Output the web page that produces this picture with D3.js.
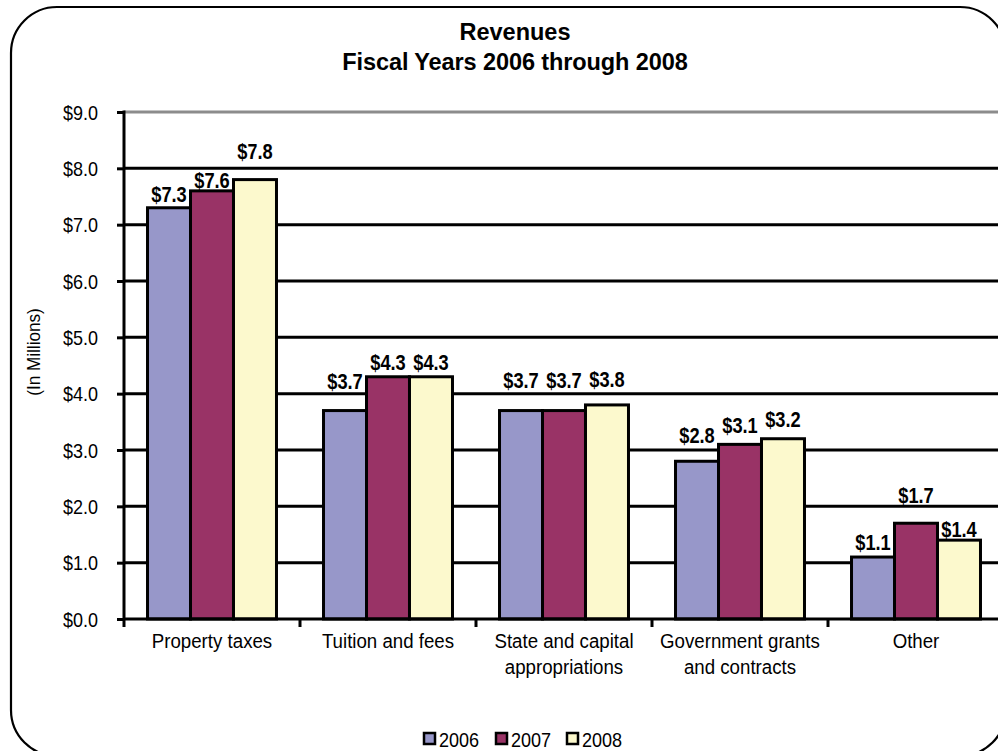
<!DOCTYPE html>
<html>
<head>
<meta charset="utf-8">
<script src="https://cdn.jsdelivr.net/npm/d3@7"></script>
<style>
  html, body { margin: 0; padding: 0; background: #fff; overflow: hidden; }
  svg { display: block; font-family: "Liberation Sans", Arial, sans-serif; }
</style>
</head>
<body>
<svg id="chart" width="998" height="751"></svg>
<script>
// Revenue categories (two-line labels split with "|")
const categories = [
  "Property taxes",
  "Tuition and fees",
  "State and capital|appropriations",
  "Government grants|and contracts",
  "Other"
];
const years = ["2006", "2007", "2008"];
// Revenues in millions of dollars, one array per fiscal year
const values2006 = [7.3, 3.7, 3.7, 2.8, 1.1];
const values2007 = [7.6, 4.3, 3.7, 3.1, 1.7];
const values2008 = [7.8, 4.3, 3.8, 3.2, 1.4];
const yTicks = [0, 1, 2, 3, 4, 5, 6, 7, 8, 9];
const colors = ["#9797c9", "#993366", "#fcf9cd"];

const series = [values2006, values2007, values2008];

const svg = d3.select("#chart");

// Narrow the glyphs of a text selection horizontally, keeping its anchor point
function squeeze(sel, sx) {
  sel.each(function () {
    const t = d3.select(this);
    const xv = +(t.attr("x") || 0);
    t.attr("x", xv / sx).attr("transform", `scale(${sx},1)`);
    t.selectAll("tspan").each(function () {
      const s = d3.select(this);
      s.attr("x", +(s.attr("x") || 0) / sx);
    });
  });
}

// Outer rounded frame
svg.append("rect")
  .attr("x", 11).attr("y", 7)
  .attr("width", 995).attr("height", 749)
  .attr("rx", 46).attr("ry", 46)
  .attr("fill", "#fff")
  .attr("stroke", "#000")
  .attr("stroke-width", 2.2);

// Titles
svg.append("text")
  .attr("x", 515).attr("y", 40)
  .attr("text-anchor", "middle")
  .attr("font-weight", "bold").attr("font-size", 23.5)
  .text("Revenues");
svg.append("text")
  .attr("x", 515).attr("y", 70)
  .attr("text-anchor", "middle")
  .attr("font-weight", "bold").attr("font-size", 23.5)
  .attr("letter-spacing", -0.1)
  .text("Fiscal Years 2006 through 2008");

const plotLeft = 124, plotTop = 112, plotBottom = 619;
const bandW = 176;

const x = d3.scaleBand()
  .domain(categories)
  .range([plotLeft, plotLeft + bandW * categories.length])
  .paddingInner(0).paddingOuter(0);

const xInner = d3.scaleBand()
  .domain(years)
  .range([0, x.bandwidth()])
  .paddingOuter(0.547).paddingInner(0);

const y = d3.scaleLinear().domain([0, 9]).range([plotBottom, plotTop]);

// Horizontal gridlines (top one grey)
svg.append("g").selectAll("line")
  .data(yTicks.filter(d => d > 0))
  .join("line")
  .attr("x1", plotLeft).attr("x2", 1000)
  .attr("y1", d => y(d)).attr("y2", d => y(d))
  .attr("stroke", d => d === 9 ? "#8c8c8c" : "#000")
  .attr("stroke-width", 3);

// Y axis
const yAxis = svg.append("g")
  .attr("transform", `translate(${plotLeft},0)`)
  .call(d3.axisLeft(y).tickValues(yTicks).tickSize(7).tickPadding(19)
    .tickFormat(d => "$" + d3.format(".1f")(d)));
yAxis.select(".domain").attr("stroke", "#000").attr("stroke-width", 3)
  .attr("d", `M0,${plotTop - 1.5}V${plotBottom}`);
yAxis.selectAll(".tick line").attr("stroke", "#000").attr("stroke-width", 3);
yAxis.selectAll(".tick text")
  .attr("font-family", "Liberation Sans, Arial, sans-serif")
  .attr("font-size", 20).attr("fill", "#000")
  .attr("dy", "0.36em")
  .call(squeeze, 0.9);

// Y axis title
svg.append("text")
  .attr("transform", "translate(40,352) rotate(-90) scale(0.9,1)")
  .attr("text-anchor", "middle")
  .attr("font-size", 19)
  .text("(In Millions)");

// Bars
const groups = svg.append("g").selectAll("g")
  .data(categories)
  .join("g")
  .attr("transform", d => `translate(${x(d)},0)`);

groups.selectAll("rect")
  .data((c, i) => years.map((yr, k) => ({ yr, k, v: series[k][i] })))
  .join("rect")
  .attr("x", d => xInner(d.yr))
  .attr("width", xInner.bandwidth())
  .attr("y", d => y(d.v))
  .attr("height", d => y(0) - y(d.v))
  .attr("fill", d => colors[d.k])
  .attr("stroke", "#000")
  .attr("stroke-width", 3);

// Gap between bar top and its value label, per category and year
const labelGap = [
  [6, 3, 21],
  [22, 7, 7],
  [23, 23, 18],
  [18, 11, 12],
  [7, 20, 3]
];

groups.each(function (c, i) {
  d3.select(this).selectAll("text.val")
    .data(years.map((yr, k) => ({ yr, k, v: series[k][i] })))
    .join("text")
    .attr("class", "val")
    .attr("x", d => xInner(d.yr) + xInner.bandwidth() / 2)
    .attr("y", d => y(d.v) - labelGap[i][d.k])
    .attr("text-anchor", "middle")
    .attr("font-weight", "bold")
    .attr("font-size", 22)
    .text(d => "$" + d3.format(".1f")(d.v))
    .call(squeeze, 0.83);
});

// X axis
const xAxis = svg.append("g")
  .attr("transform", `translate(0,${plotBottom})`)
  .call(d3.axisBottom(x).tickSize(0).tickFormat(""));
xAxis.select(".domain").attr("stroke", "#000").attr("stroke-width", 3)
  .attr("d", `M${plotLeft},0H1004`);
// Category boundary ticks
svg.append("g").selectAll("line")
  .data(d3.range(categories.length + 1))
  .join("line")
  .attr("x1", i => plotLeft + i * bandW).attr("x2", i => plotLeft + i * bandW)
  .attr("y1", plotBottom).attr("y2", plotBottom + 8)
  .attr("stroke", "#000").attr("stroke-width", 3);

// Category labels
svg.append("g").selectAll("text")
  .data(categories)
  .join("text")
  .attr("text-anchor", "middle")
  .attr("font-size", 21)
  .each(function (c) {
    const lines = c.split("|");
    d3.select(this).selectAll("tspan")
      .data(lines)
      .join("tspan")
      .attr("x", x(c) + x.bandwidth() / 2)
      .attr("y", (d, j) => 648 + j * 26)
      .text(d => d);
  })
  .call(squeeze, 0.89);

// Legend
const legend = svg.append("g");
const legendX = [424, 496, 567];
years.forEach((yr, k) => {
  legend.append("rect")
    .attr("x", legendX[k]).attr("y", 733)
    .attr("width", 11).attr("height", 11)
    .attr("fill", colors[k]).attr("stroke", "#000").attr("stroke-width", 2.5);
  legend.append("text")
    .attr("x", legendX[k] + 15).attr("y", 747)
    .attr("font-size", 21)
    .text(yr)
    .call(squeeze, 0.86);
});
</script>
</body>
</html>
